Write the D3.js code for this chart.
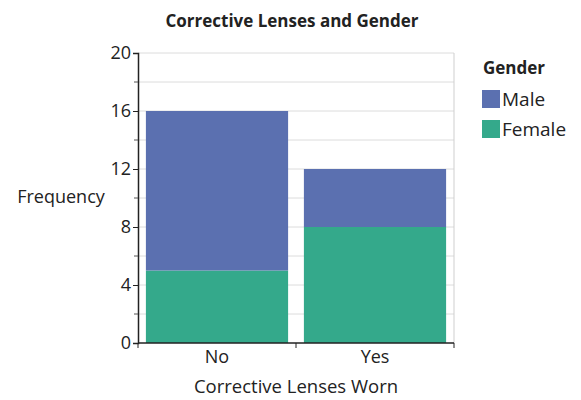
<!DOCTYPE html>
<html><head><meta charset="utf-8">
<script src="https://cdn.jsdelivr.net/npm/d3@7"></script>
<style>body{margin:0;background:#fff}svg{display:block;font-family:"Open Sans","Noto Sans",sans-serif}</style>
</head><body>
<svg id="c" width="581" height="400"></svg>
<script>
const categories = ["No", "Yes"];
const series = ["Male", "Female"];
const femaleValues = [5, 8];
const maleValues = [11, 4];
const yTicks = [0, 4, 8, 12, 16, 20];
const colors = {Male: "#5b70b0", Female: "#34a98b"};

const svg = d3.select("#c");
const pLeft = 138, pRight = 454, pTop = 53, pBottom = 343;
const x = d3.scaleBand().domain(categories).range([pLeft, pRight]).paddingInner(0.1).paddingOuter(0.05);
const y = d3.scaleLinear().domain([0, 20]).range([pBottom, pTop]);

// gridlines
svg.append("g").selectAll("line").data(d3.range(2, 21, 2)).join("line")
  .attr("x1", pLeft).attr("x2", pRight).attr("y1", d => y(d)).attr("y2", d => y(d))
  .attr("stroke", "#dcdcdc").attr("stroke-width", 1);
svg.append("line").attr("x1", pRight).attr("x2", pRight).attr("y1", pTop).attr("y2", pBottom)
  .attr("stroke", "#cfcfcf");

const data = categories.map((c, i) => ({cat: c, Female: femaleValues[i], Male: maleValues[i]}));
const stack = d3.stack().keys(["Female", "Male"])(data);
svg.append("g").selectAll("g").data(stack).join("g")
  .attr("fill", d => colors[d.key])
  .selectAll("rect").data(d => d).join("rect")
  .attr("x", d => x(d.data.cat)).attr("width", x.bandwidth())
  .attr("y", d => y(d[1])).attr("height", d => y(d[0]) - y(d[1]));

// y axis
const ya = svg.append("g").attr("transform", `translate(${pLeft},0)`)
  .call(d3.axisLeft(y).tickValues(yTicks).tickSize(5).tickPadding(2));
ya.selectAll("text").attr("font-size", 18).attr("fill", "#222").style("font-family", "Open Sans");
ya.select(".domain").attr("stroke", "#222").attr("stroke-width", 1.5);
ya.selectAll(".tick line").attr("stroke", "#222");
svg.append("g").selectAll("line").data([2, 6, 10, 14, 18]).join("line")
  .attr("x1", pLeft - 4).attr("x2", pLeft).attr("y1", d => y(d)).attr("y2", d => y(d)).attr("stroke", "#555");

// x axis
const xa = svg.append("g").attr("transform", `translate(0,${pBottom})`);
xa.append("line").attr("x1", pLeft).attr("x2", pRight).attr("stroke", "#222").attr("stroke-width", 1.5);
xa.selectAll("line.t").data([0, 1, 2]).join("line").attr("class", "t")
  .attr("x1", i => pLeft + i * x.step()).attr("x2", i => pLeft + i * x.step())
  .attr("y1", 0).attr("y2", 5).attr("stroke", "#222");
xa.selectAll("text").data(categories).join("text")
  .attr("x", d => x(d) + x.bandwidth() / 2).attr("y", 20)
  .attr("text-anchor", "middle").attr("font-size", 18).attr("fill", "#222").text(d => d);

// titles
svg.append("text").attr("x", 292).attr("y", 27).attr("text-anchor", "middle")
  .attr("font-size", 17).attr("font-weight", "bold").attr("fill", "#222").text("Corrective Lenses and Gender");
svg.append("text").attr("x", 61).attr("y", 203).attr("text-anchor", "middle")
  .attr("font-size", 18).attr("fill", "#222").text("Frequency");
svg.append("text").attr("x", 296).attr("y", 393).attr("text-anchor", "middle")
  .attr("font-size", 18.5).attr("fill", "#222").text("Corrective Lenses Worn");

// legend
const lg = svg.append("g");
lg.append("text").attr("x", 483).attr("y", 74).attr("font-size", 17).attr("font-weight", "bold")
  .attr("fill", "#222").text("Gender");
const items = lg.selectAll("g").data(series).join("g")
  .attr("transform", (d, i) => `translate(482,${90 + i * 30})`);
items.append("rect").attr("width", 18).attr("height", 18).attr("fill", d => colors[d]);
items.append("text").attr("x", 20).attr("y", 16).attr("font-size", 19).attr("fill", "#222").text(d => d);
</script>
</body></html>
